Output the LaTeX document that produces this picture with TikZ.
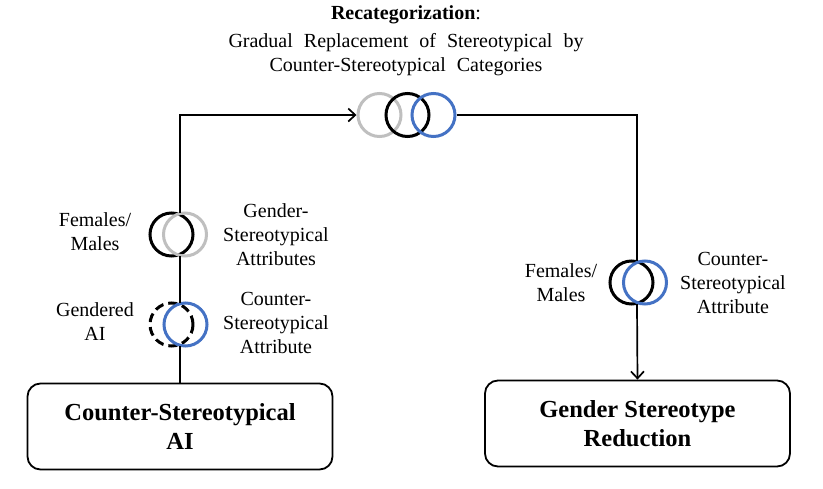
\documentclass[tikz,border=0pt]{standalone}
\usepackage{fontspec}
\setmainfont{Liberation Serif}
\usetikzlibrary{positioning,arrows.meta}
\definecolor{ringblue}{RGB}{68,114,196}
\definecolor{ringgrey}{RGB}{191,191,191}
\newcommand\widespaces{\spaceskip=11pt plus 2pt\relax}
\tikzset{
  ring/.style={circle, draw, line width=3pt, minimum size=43pt, inner sep=0pt},
  pair/.style={circle, minimum size=43pt, inner sep=0pt},
  lbl/.style={align=center, font=\fontsize{20}{24}\selectfont},
  bigbox/.style={draw, line width=1.8pt, rounded corners=13pt, minimum width=305pt,
    minimum height=86pt, align=center, font=\fontsize{24.5}{29.5}\selectfont\bfseries},
  link/.style={line width=1.7pt},
  tip/.style={-{Straight Barb[length=7pt,width=13pt,line width=1.7pt]}}
}
\begin{document}
\begin{tikzpicture}[x=1pt,y=-1pt]
    \useasboundingbox (0,0) rectangle (823,488);
    \node[lbl, font=\fontsize{20}{24}\selectfont\widespaces] (title) at (406,41)
      {\textbf{Recategorization}:\\[4pt]
      Gradual Replacement of Stereotypical by\\ Counter-Stereotypical Categories};
    \node[ring, ringgrey] (grey) at (379.5,115) {};
    \node[ring, black] (black) at (407.5,115) {};
    \node[ring, ringblue] (blue) at (433.5,115) {};
    \node[bigbox] (cai) at (180,426.5) {Counter-Stereotypical\\AI};
    \node[bigbox] (gsr) at (637.5,423.5) {Gender Stereotype\\Reduction};
    \node[pair] (fmL) at (180,234.5) {};
    \node[ring, black] at (171.5,234.5) {};
    \node[ring, ringgrey] at (185,234.5) {};
    \node[pair] (gaiL) at (180,324.5) {};
    \node[ring, black, dash pattern=on 9pt off 5pt] at (171.5,324.5) {};
    \node[ring, ringblue] at (185.5,324.5) {};
    \node[pair] (fmR) at (637,282.5) {};
    \node[ring, black] at (631.5,282.5) {};
    \node[ring, ringblue] at (645,282.5) {};
    \node[lbl] (fmLtxt) at (95,232) {Females/\\Males};
    \node[lbl] (gsAtxt) at (276,235) {Gender-\\Stereotypical\\Attributes};
    \node[lbl] (gaitxt) at (95,322) {Gendered\\AI};
    \node[lbl] (csAtxt) at (276,323) {Counter-\\Stereotypical\\Attribute};
    \node[lbl] (fmRtxt) at (561,283) {Females/\\Males};
    \node[lbl] (csRtxt) at (733,283) {Counter-\\Stereotypical\\Attribute};
    \draw[link] (cai.north) -- (gaiL.south);
    \draw[link] (gaiL.north) -- (fmL.south);
    \draw[link,tip] (fmL.north) |- (grey.west);
    \draw[link] (blue.east) -| (fmR.north);
    \draw[link,tip] (fmR.south) -- (gsr.north);
\end{tikzpicture}
\end{document}
